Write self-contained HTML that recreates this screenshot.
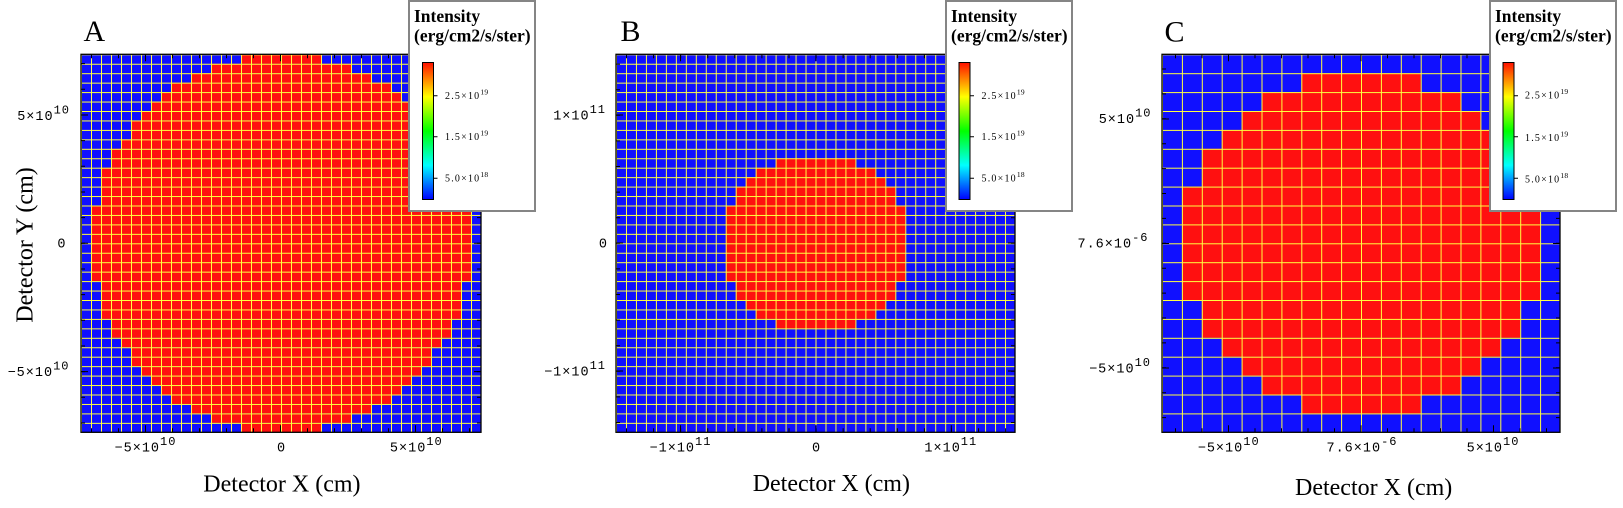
<!DOCTYPE html>
<html>
<head>
<meta charset="utf-8">
<style>
html,body{margin:0;padding:0;background:#fff;}
body{width:1623px;height:508px;overflow:hidden;}
svg{display:block;}
</style>
</head>
<body>
<svg width="1623" height="508" viewBox="0 0 1623 508" xmlns="http://www.w3.org/2000/svg">
<defs>
<linearGradient id="cb" x1="0" y1="1" x2="0" y2="0">
<stop offset="0" stop-color="#0000ff"/>
<stop offset="0.25" stop-color="#00ffff"/>
<stop offset="0.5" stop-color="#00ff00"/>
<stop offset="0.75" stop-color="#ffff00"/>
<stop offset="1" stop-color="#ff1000"/>
</linearGradient>
<pattern id="gA" patternUnits="userSpaceOnUse" x="81" y="54.3" width="10" height="9.45"><path d="M0.5 0V9.45M0 0.5H10" stroke="#ffff40" stroke-width="1" fill="none"/></pattern>
<pattern id="gB" patternUnits="userSpaceOnUse" x="616" y="54.3" width="9.975" height="9.45"><path d="M0.5 0V9.45M0 0.5H9.975" stroke="#ffff40" stroke-width="1" fill="none"/></pattern>
<pattern id="gC" patternUnits="userSpaceOnUse" x="1162" y="54.3" width="19.9" height="18.9"><path d="M0.5 0V18.9M0 0.5H19.9" stroke="#ffff40" stroke-width="1" fill="none"/></pattern>
</defs>

<!-- ================= PANEL A ================= -->
<rect x="81" y="54.3" width="400" height="378" fill="#1010ff"/>
<g fill="#ff1010">
<rect x="241" y="54.3" width="80" height="9.45"/>
<rect x="211" y="63.75" width="140" height="9.45"/>
<rect x="191" y="73.2" width="180" height="9.45"/>
<rect x="171" y="82.65" width="220" height="9.45"/>
<rect x="161" y="92.1" width="240" height="9.45"/>
<rect x="151" y="101.55" width="260" height="9.45"/>
<rect x="141" y="111" width="280" height="9.45"/>
<rect x="131" y="120.45" width="300" height="18.9"/>
<rect x="121" y="139.35" width="320" height="9.45"/>
<rect x="111" y="148.8" width="340" height="18.9"/>
<rect x="101" y="167.7" width="360" height="37.8"/>
<rect x="91" y="205.5" width="380" height="75.6"/>
<rect x="101" y="281.1" width="360" height="37.8"/>
<rect x="111" y="318.9" width="340" height="18.9"/>
<rect x="121" y="337.8" width="320" height="9.45"/>
<rect x="131" y="347.25" width="300" height="18.9"/>
<rect x="141" y="366.15" width="280" height="9.45"/>
<rect x="151" y="375.6" width="260" height="9.45"/>
<rect x="161" y="385.05" width="240" height="9.45"/>
<rect x="171" y="394.5" width="220" height="9.45"/>
<rect x="191" y="403.95" width="180" height="9.45"/>
<rect x="211" y="413.4" width="140" height="9.45"/>
<rect x="241" y="422.85" width="80" height="9.45"/>
</g>
<rect x="81" y="54.3" width="400" height="378" fill="url(#gA)"/>
<g stroke="#000" fill="none">
<line x1="91" y1="430.3" x2="481" y2="430.3" stroke-width="4" stroke-dasharray="1 26"/>
<line x1="145" y1="428.8" x2="481" y2="428.8" stroke-width="7" stroke-dasharray="1 134"/>
<line x1="91" y1="56.3" x2="481" y2="56.3" stroke-width="4" stroke-dasharray="1 26"/>
<line x1="145" y1="57.8" x2="481" y2="57.8" stroke-width="7" stroke-dasharray="1 134"/>
<line x1="83" y1="63.1" x2="83" y2="432" stroke-width="4" stroke-dasharray="1 24.67"/>
<line x1="84.5" y1="114.5" x2="84.5" y2="432" stroke-width="7" stroke-dasharray="1 127.3"/>
<line x1="479" y1="63.1" x2="479" y2="432" stroke-width="4" stroke-dasharray="1 24.67"/>
<line x1="477.5" y1="114.5" x2="477.5" y2="432" stroke-width="7" stroke-dasharray="1 127.3"/>
<rect x="81" y="54.3" width="400" height="378" stroke-width="1.3"/>
</g>

<!-- ================= PANEL B ================= -->
<rect x="616" y="54.3" width="399" height="378" fill="#1010ff"/>
<g fill="#ff1010">
<rect x="775.6" y="158.25" width="79.8" height="9.45"/>
<rect x="755.65" y="167.7" width="119.7" height="9.45"/>
<rect x="745.68" y="177.15" width="139.65" height="9.45"/>
<rect x="735.7" y="186.6" width="159.6" height="18.9"/>
<rect x="725.73" y="205.5" width="179.55" height="75.6"/>
<rect x="735.7" y="281.1" width="159.6" height="18.9"/>
<rect x="745.68" y="300" width="139.65" height="9.45"/>
<rect x="755.65" y="309.45" width="119.7" height="9.45"/>
<rect x="775.6" y="318.9" width="79.8" height="9.45"/>
</g>
<rect x="616" y="54.3" width="399" height="378" fill="url(#gB)"/>
<g stroke="#000" fill="none">
<line x1="626" y1="430.3" x2="1015" y2="430.3" stroke-width="4" stroke-dasharray="1 26.08"/>
<line x1="680" y1="428.8" x2="1015" y2="428.8" stroke-width="7" stroke-dasharray="1 134.4"/>
<line x1="626" y1="56.3" x2="1015" y2="56.3" stroke-width="4" stroke-dasharray="1 26.08"/>
<line x1="680" y1="57.8" x2="1015" y2="57.8" stroke-width="7" stroke-dasharray="1 134.4"/>
<line x1="618" y1="63.6" x2="618" y2="432" stroke-width="4" stroke-dasharray="1 24.6"/>
<line x1="619.5" y1="114.5" x2="619.5" y2="432" stroke-width="7" stroke-dasharray="1 127"/>
<line x1="1013" y1="63.6" x2="1013" y2="432" stroke-width="4" stroke-dasharray="1 24.6"/>
<line x1="1011.5" y1="114.5" x2="1011.5" y2="432" stroke-width="7" stroke-dasharray="1 127"/>
<rect x="616" y="54.3" width="399" height="378" stroke-width="1.3"/>
</g>

<!-- ================= PANEL C ================= -->
<rect x="1162" y="54.3" width="398" height="378" fill="#1010ff"/>
<g fill="#ff1010">
<rect x="1301.3" y="73.2" width="119.4" height="18.9"/>
<rect x="1261.5" y="92.1" width="199" height="18.9"/>
<rect x="1241.6" y="111" width="238.8" height="18.9"/>
<rect x="1221.7" y="129.9" width="278.6" height="18.9"/>
<rect x="1201.8" y="148.8" width="318.4" height="37.8"/>
<rect x="1181.9" y="186.6" width="358.2" height="113.4"/>
<rect x="1201.8" y="300" width="318.4" height="37.8"/>
<rect x="1221.7" y="337.8" width="278.6" height="18.9"/>
<rect x="1241.6" y="356.7" width="238.8" height="18.9"/>
<rect x="1261.5" y="375.6" width="199" height="18.9"/>
<rect x="1301.3" y="394.5" width="119.4" height="18.9"/>
</g>
<rect x="1162" y="54.3" width="398" height="378" fill="url(#gC)"/>
<g stroke="#000" fill="none">
<line x1="1175" y1="430.3" x2="1560" y2="430.3" stroke-width="4" stroke-dasharray="1 25.5"/>
<line x1="1228" y1="428.8" x2="1560" y2="428.8" stroke-width="7" stroke-dasharray="1 131.5"/>
<line x1="1175" y1="56.3" x2="1560" y2="56.3" stroke-width="4" stroke-dasharray="1 25.5"/>
<line x1="1228" y1="57.8" x2="1560" y2="57.8" stroke-width="7" stroke-dasharray="1 131.5"/>
<line x1="1164" y1="68.5" x2="1164" y2="432" stroke-width="4" stroke-dasharray="1 23.9"/>
<line x1="1165.5" y1="118.5" x2="1165.5" y2="432" stroke-width="7" stroke-dasharray="1 123.5"/>
<line x1="1558" y1="68.5" x2="1558" y2="432" stroke-width="4" stroke-dasharray="1 23.9"/>
<line x1="1556.5" y1="118.5" x2="1556.5" y2="432" stroke-width="7" stroke-dasharray="1 123.5"/>
<rect x="1162" y="54.3" width="398" height="378" stroke-width="1.3"/>
</g>

<!-- ================= PANEL LETTERS ================= -->
<g font-family="'Liberation Serif', serif" font-size="30" fill="#000">
<text x="83.5" y="41">A</text>
<text x="620.5" y="41">B</text>
<text x="1164.5" y="41.5">C</text>
</g>

<!-- ================= TICK LABELS ================= -->
<g font-family="'Liberation Mono', monospace" font-size="13.5" letter-spacing="1" fill="#000">
<!-- A x -->
<text x="145.5" y="451.3" text-anchor="middle">−5×10<tspan dy="-6.3" font-size="12">10</tspan></text>
<text x="281.5" y="451.3" text-anchor="middle">0</text>
<text x="416.3" y="451.3" text-anchor="middle">5×10<tspan dy="-6.3" font-size="12">10</tspan></text>
<!-- A y -->
<text x="70" y="120" text-anchor="end">5×10<tspan dy="-6.5" font-size="12">10</tspan></text>
<text x="66.5" y="247.5" text-anchor="end">0</text>
<text x="69.5" y="376" text-anchor="end">−5×10<tspan dy="-6.5" font-size="12">10</tspan></text>
<!-- B x -->
<text x="680.5" y="451.5" text-anchor="middle">−1×10<tspan dy="-6.3" font-size="12">11</tspan></text>
<text x="816.5" y="451.5" text-anchor="middle">0</text>
<text x="950.8" y="451.5" text-anchor="middle">1×10<tspan dy="-6.3" font-size="12">11</tspan></text>
<!-- B y -->
<text x="606" y="119.3" text-anchor="end">1×10<tspan dy="-6.5" font-size="12">11</tspan></text>
<text x="608" y="247.5" text-anchor="end">0</text>
<text x="606" y="375.3" text-anchor="end">−1×10<tspan dy="-6.5" font-size="12">11</tspan></text>
<!-- C x -->
<text x="1228.7" y="451.5" text-anchor="middle">−5×10<tspan dy="-6.3" font-size="12">10</tspan></text>
<text x="1362" y="451.5" text-anchor="middle">7.6×10<tspan dy="-6.3" font-size="12">-6</tspan></text>
<text x="1493" y="451.5" text-anchor="middle">5×10<tspan dy="-6.3" font-size="12">10</tspan></text>
<!-- C y -->
<text x="1151.5" y="123.2" text-anchor="end">5×10<tspan dy="-6.5" font-size="12">10</tspan></text>
<text x="1148.5" y="247.5" text-anchor="end">7.6×10<tspan dy="-6.5" font-size="12">-6</tspan></text>
<text x="1151" y="372.5" text-anchor="end">−5×10<tspan dy="-6.5" font-size="12">10</tspan></text>
</g>

<!-- ================= AXIS TITLES ================= -->
<g font-family="'Liberation Serif', serif" font-size="24" fill="#000">
<text x="203.3" y="491.7">Detector X (cm)</text>
<text x="752.7" y="491">Detector X (cm)</text>
<text x="1295" y="495">Detector X (cm)</text>
<text transform="translate(32.7,245) rotate(-90)" text-anchor="middle">Detector Y (cm)</text>
</g>

<!-- ================= LEGENDS ================= -->
<g font-family="'Liberation Serif', serif" fill="#000">
<!-- A legend -->
<rect x="409" y="1" width="126" height="210" fill="#fff" stroke="#858585" stroke-width="2"/>
<text x="414" y="22" font-size="17.5" font-weight="bold">Intensity</text>
<text x="414" y="41.7" font-size="17.5" font-weight="bold">(erg/cm2/s/ster)</text>
<rect x="422.5" y="62.5" width="11" height="137" fill="url(#cb)" stroke="#000" stroke-width="1"/>
<path d="M433.5 95.7h4M433.5 136.7h4M433.5 178.3h4" stroke="#000" stroke-width="1"/>
<g font-size="10" letter-spacing="1.2">
<text x="445" y="99">2.5×10<tspan dy="-4.7" font-size="7.5" letter-spacing="0.3">19</tspan></text>
<text x="445" y="140">1.5×10<tspan dy="-4.7" font-size="7.5" letter-spacing="0.3">19</tspan></text>
<text x="445" y="181.6">5.0×10<tspan dy="-4.7" font-size="7.5" letter-spacing="0.3">18</tspan></text>
</g>

<!-- B legend -->
<rect x="946" y="1" width="126" height="210" fill="#fff" stroke="#858585" stroke-width="2"/>
<text x="951" y="22" font-size="17.5" font-weight="bold">Intensity</text>
<text x="951" y="41.7" font-size="17.5" font-weight="bold">(erg/cm2/s/ster)</text>
<rect x="959" y="62.5" width="11" height="137" fill="url(#cb)" stroke="#000" stroke-width="1"/>
<path d="M970 95.7h4M970 136.7h4M970 178.3h4" stroke="#000" stroke-width="1"/>
<g font-size="10" letter-spacing="1.2">
<text x="981.5" y="99">2.5×10<tspan dy="-4.7" font-size="7.5" letter-spacing="0.3">19</tspan></text>
<text x="981.5" y="140">1.5×10<tspan dy="-4.7" font-size="7.5" letter-spacing="0.3">19</tspan></text>
<text x="981.5" y="181.6">5.0×10<tspan dy="-4.7" font-size="7.5" letter-spacing="0.3">18</tspan></text>
</g>

<!-- C legend -->
<rect x="1490" y="1" width="126" height="210" fill="#fff" stroke="#858585" stroke-width="2"/>
<text x="1495" y="22" font-size="17.5" font-weight="bold">Intensity</text>
<text x="1495" y="41.7" font-size="17.5" font-weight="bold">(erg/cm2/s/ster)</text>
<rect x="1503" y="62.5" width="11" height="137" fill="url(#cb)" stroke="#000" stroke-width="1"/>
<path d="M1514 95.7h4M1514 136.7h4M1514 178.3h4" stroke="#000" stroke-width="1"/>
<g font-size="10" letter-spacing="1.2">
<text x="1525" y="98.5">2.5×10<tspan dy="-4.7" font-size="7.5" letter-spacing="0.3">19</tspan></text>
<text x="1525" y="141">1.5×10<tspan dy="-4.7" font-size="7.5" letter-spacing="0.3">19</tspan></text>
<text x="1525" y="182.6">5.0×10<tspan dy="-4.7" font-size="7.5" letter-spacing="0.3">18</tspan></text>
</g>
</g>
</svg>
</body>
</html>
